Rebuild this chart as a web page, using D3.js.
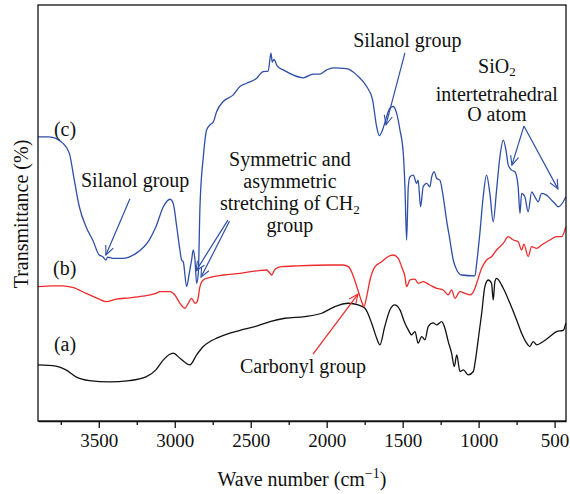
<!DOCTYPE html>
<html><head><meta charset="utf-8">
<script src="https://cdn.jsdelivr.net/npm/d3@7/dist/d3.min.js"></script>
<style>body{margin:0;background:#fff}svg{display:block}</style>
</head><body><svg id="chart" width="570" height="494"></svg>
<script>
// ---- data: [wavenumber (cm-1), transmittance (arbitrary %)] ----
const seriesC = [[3900,68.3],[3828,68.3],[3737,66.8],[3694,64.4],[3661,57.9],[3628,51.5],[3584,46.7],[3540,43.5],[3497,39.9],[3474,39.5],[3453,38.7],[3441,39.4],[3408,39.1],[3343,39.1],[3255,40.3],[3168,43.5],[3124,46.7],[3075,51.5],[3031,53.3],[3010,52.3],[2987,46.7],[2966,41.1],[2955,38.7],[2944,38.3],[2922,32.3],[2904,35.6],[2889,38.7],[2878,41.1],[2867,38.7],[2856,33.1],[2845,35.5],[2834,51.5],[2812,63.5],[2790,70.0],[2768,71.2],[2746,71.9],[2724,74.4],[2681,76.8],[2615,78.4],[2571,80.4],[2527,81.2],[2461,82.4],[2418,84.0],[2385,84.1],[2367,88.4],[2358,86.3],[2347,86.9],[2325,85.3],[2286,84.4],[2154,82.5],[2088,83.4],[2044,83.4],[2000,84.4],[1957,84.9],[1869,84.7],[1803,83.2],[1737,80.4],[1698,77.2],[1671,70.7],[1654,68.6],[1632,70.0],[1618,71.6],[1584,75.2],[1562,75.6],[1540,74.0],[1518,70.0],[1496,64.4],[1485,56.3],[1474,43.5],[1463,56.3],[1452,58.7],[1430,59.1],[1408,57.1],[1398,57.9],[1382,51.5],[1365,56.3],[1342,57.1],[1321,56.3],[1309,58.7],[1292,59.9],[1276,58.3],[1255,57.9],[1233,53.9],[1211,48.3],[1189,43.5],[1167,38.7],[1144,36.3],[1112,35.1],[1024,34.9],[1013,37.9],[992,45.1],[970,53.9],[948,59.1],[926,54.7],[904,47.9],[882,55.5],[860,63.5],[838,67.5],[820,65.1],[805,61.5],[783,60.3],[761,59.9],[740,56.3],[728,49.9],[717,54.7],[696,53.9],[674,50.3],[651,55.1],[630,53.9],[608,52.7],[586,54.7],[553,54.3],[520,53.1],[498,52.3],[476,51.5],[443,52.7],[426,53.9]];

const seriesB = [[3900,32.3],[3803,32.5],[3737,32.5],[3672,32.1],[3584,30.7],[3497,29.3],[3453,28.7],[3387,29.3],[3299,29.6],[3211,30.0],[3124,30.7],[3097,31.1],[3031,31.1],[2999,30.3],[2966,28.3],[2933,27.1],[2911,28.3],[2889,29.5],[2867,28.3],[2852,28.7],[2834,32.3],[2812,33.9],[2768,34.5],[2681,35.1],[2571,35.5],[2461,36.1],[2396,36.3],[2373,35.5],[2362,35.1],[2340,36.5],[2296,37.1],[2187,37.3],[1967,37.5],[1891,37.5],[1858,37.1],[1832,35.5],[1809,33.1],[1788,30.7],[1770,28.7],[1755,27.5],[1737,29.9],[1715,33.9],[1682,37.1],[1638,38.3],[1605,39.3],[1562,39.9],[1529,39.1],[1507,37.1],[1485,34.7],[1474,32.3],[1452,33.9],[1419,34.1],[1398,33.1],[1365,33.5],[1321,32.7],[1276,31.9],[1233,31.5],[1200,30.3],[1178,31.5],[1156,29.5],[1123,31.1],[1090,30.7],[1057,30.3],[1024,31.9],[1013,33.1],[980,36.7],[948,38.7],[915,39.5],[882,41.1],[838,42.7],[805,44.3],[772,43.5],[740,43.1],[717,41.1],[702,42.5],[674,39.5],[651,41.9],[618,41.5],[586,42.3],[531,43.5],[487,44.3],[454,44.3],[426,46.7]];

const seriesA = [[3900,13.5],[3782,13.2],[3716,12.3],[3650,10.6],[3562,9.7],[3431,9.4],[3299,9.7],[3189,10.6],[3124,12.3],[3075,14.7],[3010,16.3],[2966,15.1],[2900,13.5],[2856,15.9],[2812,17.9],[2768,19.1],[2724,19.9],[2637,21.1],[2549,22.0],[2461,22.8],[2373,23.9],[2275,24.7],[2143,25.1],[2033,25.9],[1946,27.5],[1858,28.3],[1792,27.9],[1748,27.1],[1704,23.5],[1671,19.9],[1650,18.3],[1618,22.7],[1584,26.7],[1552,27.9],[1518,26.7],[1485,23.5],[1463,21.9],[1441,20.7],[1419,21.5],[1398,18.7],[1375,20.3],[1353,19.5],[1332,22.7],[1299,23.6],[1276,23.1],[1243,23.9],[1222,22.3],[1200,19.1],[1178,16.3],[1160,13.1],[1144,15.9],[1123,11.9],[1101,12.3],[1068,11.1],[1035,11.9],[1024,13.9],[1003,19.5],[980,25.9],[959,32.3],[937,33.9],[915,33.1],[904,29.1],[893,33.5],[882,34.3],[838,31.9],[794,28.3],[750,24.3],[717,21.1],[684,18.7],[663,17.9],[641,19.1],[618,18.3],[575,19.1],[531,20.3],[487,21.5],[443,21.8],[426,23.5]];

const majorTicks = [3500, 3000, 2500, 2000, 1500, 1000, 500];
const minorTicks = [3750, 3250, 2750, 2250, 1750, 1250, 750];
const seriesLabels = ["(a)", "(b)", "(c)"];

// ---- layout ----
const svg = d3.select("#chart");
const L = 38, R = 566, T = 5, B = 421;
const x = d3.scaleLinear().domain([3900, 425]).range([L, R]);
const y = d3.scaleLinear().domain([0, 100]).range([B, T]);
const FONT = "'Liberation Serif', 'Times New Roman', serif";

const line = d3.line().x(d => x(d[0])).y(d => y(d[1])).curve(d3.curveMonotoneX);

const BLUE = "#2f4fa6", RED = "#ee2a2a", BLACK = "#111";

[[seriesA, BLACK], [seriesB, RED], [seriesC, BLUE]].forEach(([s, c]) => {
  svg.append("path").attr("d", line(s)).attr("fill", "none")
    .attr("stroke", c).attr("stroke-width", 1.3).attr("stroke-linejoin", "round");
});

// frame
svg.append("rect").attr("x", L).attr("y", T).attr("width", R - L).attr("height", B - T)
  .attr("fill", "none").attr("stroke", "#111").attr("stroke-width", 1.3);

// x axis
const ax = svg.append("g").attr("transform", `translate(0,${B})`)
  .call(d3.axisBottom(x).tickValues(majorTicks).tickSize(7).tickSizeOuter(0).tickPadding(6).tickFormat(d3.format("d")));
ax.select(".domain").attr("stroke", "#111").attr("stroke-width", 1.3);
ax.selectAll(".tick line").attr("stroke", "#111").attr("stroke-width", 1.3);
ax.selectAll("text").attr("font-family", FONT).attr("font-size", 19).attr("fill", "#111");
const axm = svg.append("g").attr("transform", `translate(0,${B})`)
  .call(d3.axisBottom(x).tickValues(minorTicks).tickSize(4).tickSizeOuter(0).tickFormat(""));
axm.select(".domain").remove();
axm.selectAll(".tick line").attr("stroke", "#111").attr("stroke-width", 1.3);

// axis titles
const xt = svg.append("text").attr("x", 302).attr("y", 486).attr("text-anchor", "middle")
  .attr("font-family", FONT).attr("font-size", 20).attr("fill", "#111");
xt.append("tspan").text("Wave number (cm");
xt.append("tspan").attr("dy", -8).attr("font-size", 14).text("−1");
xt.append("tspan").attr("dy", 8).text(")");

svg.append("text").attr("transform", "translate(28,214) rotate(-90)").attr("text-anchor", "middle")
  .attr("font-family", FONT).attr("font-size", 20).attr("fill", "#111").text("Transmittance (%)");

// series labels
const labelPos = [[3795, 16.8], [3801, 35.1], [3795, 68.5]];
seriesLabels.forEach((t, i) => {
  svg.append("text").attr("x", x(labelPos[i][0])).attr("y", y(labelPos[i][1]))
    .attr("font-family", FONT).attr("font-size", 20).attr("fill", "#111").text(t);
});

// annotation text helper
function ann(parts, wx, vy, anchor) {
  const t = svg.append("text").attr("x", x(wx)).attr("y", y(vy)).attr("text-anchor", anchor || "middle")
    .attr("font-family", FONT).attr("font-size", 20).attr("fill", "#111");
  parts.forEach(p => {
    if (typeof p === "string") t.append("tspan").text(p);
    else t.append("tspan").attr("dy", p.dy).attr("font-size", 13).text(p.t);
  });
}
ann(["Silanol group"], 3617, 56.3, "start");
ann(["Symmetric and"], 2242, 61.3);
ann(["asymmetric"], 2242, 56.0);
ann(["stretching of CH", {t: "2", dy: 4}], 2242, 50.7);
ann(["group"], 2242, 45.4);
ann(["Silanol group"], 1469, 89.9);
ann(["SiO", {t: "2", dy: 3}], 880, 83.6);
ann(["intertetrahedral"], 880, 77.0);
ann(["O atom"], 880, 72.0);
ann(["Carbonyl group"], 2156, 11.5);

// arrows
const defs = svg.append("defs");
[["blue", BLUE], ["red", RED]].forEach(([id, c]) => {
  defs.append("marker").attr("id", "ah-" + id).attr("viewBox", "0 0 12 12")
    .attr("refX", 11).attr("refY", 6).attr("markerWidth", 11).attr("markerHeight", 11)
    .attr("markerUnits", "userSpaceOnUse").attr("orient", "auto")
    .append("path").attr("d", "M1,1.5 L11,6 L1,10.5").attr("fill", "none")
    .attr("stroke", c).attr("stroke-width", 1.2);
});
const arrows = [
  [[3295, 53.4], [3453, 39.9], "blue"],
  [[1485, 88.5], [1610, 71.2], "blue"],
  [[702, 70.9], [781, 61.5], "blue"],
  [[702, 70.9], [478, 55.8], "blue"],
  [[2650, 48.3], [2860, 36.1], "blue"],
  [[2640, 48.0], [2827, 34.6], "blue"],
  [[2090, 16.1], [1794, 30.5], "red"]
];
arrows.forEach(([a, b, c]) => {
  svg.append("line").attr("x1", x(a[0])).attr("y1", y(a[1])).attr("x2", x(b[0])).attr("y2", y(b[1]))
    .attr("stroke", c === "blue" ? BLUE : RED).attr("stroke-width", 1.2)
    .attr("marker-end", `url(#ah-${c})`);
});
</script></body></html>
